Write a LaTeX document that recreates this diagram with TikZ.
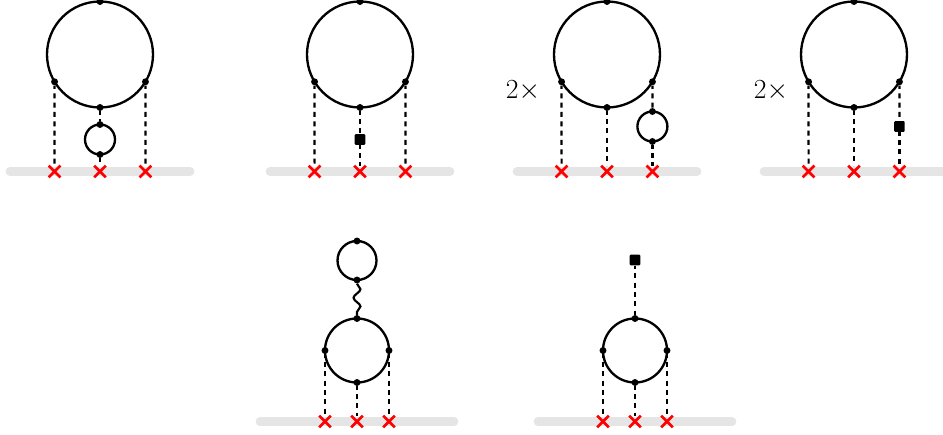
\documentclass[tikz,border=0pt]{standalone}
\usepackage{amsmath}
\usetikzlibrary{shapes.misc,decorations.pathmorphing}
\tikzset{
  pxl/.style={x=0.75pt,y=-0.75pt},
  looprim/.style={circle,draw=black,line width=1.75pt,inner sep=0pt,outer sep=0pt,fill=none,minimum size=#1*1.5pt},
  vertexdot/.style={circle,fill=black,inner sep=0pt,minimum size=5.2pt},
  insertion/.style={rectangle,fill=black,rounded corners=0.8pt,inner sep=0pt,minimum size=8pt},
  source/.style={cross out,draw=red,line width=2pt,inner sep=0pt,outer sep=0pt,minimum size=8.8pt},
  band/.style={line width=6.6pt,line cap=round,draw=black!10},
  prop/.style={line width=1.65pt,dash pattern=on 3.8pt off 3.2pt,dash phase=1.2pt},
  photon/.style={line width=1.6pt,decorate,decoration={snake,segment length=13pt,amplitude=2.6pt}}
}
% prefix, centre x, centre y, radius in px
\newcommand{\mkloop}[4]{%
  \node[looprim=#4] (#1) at (#2,#3) {};%
  \node[vertexdot] (#1-top) at (#1.north) {};%
  \node[vertexdot] (#1-bot) at (#1.south) {};%
}
\newcommand{\mkbig}[2]{%
  \mkloop{#1}{#2}{54.5}{53}%
  \node[vertexdot] (#1-lft) at (#1.211) {};%
  \node[vertexdot] (#1-rgt) at (#1.329) {};%
}
\newcommand{\mkmid}[2]{%
  \mkloop{#1}{#2}{350.5}{32}%
  \node[vertexdot] (#1-lft) at (#1.west) {};%
  \node[vertexdot] (#1-rgt) at (#1.east) {};%
}
% prefix, band left, band right, y, x1 x2 x3
\newcommand{\mkband}[7]{%
  \coordinate (#1-L) at (#2,#4);%
  \coordinate (#1-R) at (#3,#4);%
  \draw[band] (#1-L) -- (#1-R);%
  \node[source] (#1-x1) at (#5,#4) {};%
  \node[source] (#1-x2) at (#6,#4) {};%
  \node[source] (#1-x3) at (#7,#4) {};%
}
\begin{document}
\begin{tikzpicture}[pxl]
\useasboundingbox (0,0) rectangle (943,435);

% diagram 1
\mkband{bandA}{10}{190}{171.5}{54.6}{100}{145.4}
\mkbig{loopA}{100}
\mkloop{subA}{100}{139.5}{15}
\draw[prop] (loopA-lft) -- (bandA-x1);
\draw[prop] (loopA-rgt) -- (bandA-x3);
\draw[prop] (loopA-bot) -- (subA-top);
\draw[prop] (subA-bot) -- (bandA-x2);

% diagram 2
\mkband{bandB}{270}{450}{171.5}{314.6}{360}{405.4}
\mkbig{loopB}{360}
\node[insertion] (subB) at (360,139.5) {};
\draw[prop] (loopB-lft) -- (bandB-x1);
\draw[prop] (loopB-rgt) -- (bandB-x3);
\draw[prop] (loopB-bot) -- (subB);
\draw[prop] (subB) -- (bandB-x2);

% diagram 3
\mkband{bandC}{517}{697}{171.5}{561.6}{607}{652.4}
\mkbig{loopC}{607}
\mkloop{subC}{652.4}{126.5}{15}
\draw[prop] (loopC-lft) -- (bandC-x1);
\draw[prop] (loopC-bot) -- (bandC-x2);
\draw[prop] (loopC-rgt) -- (subC-top);
\draw[prop] (subC-bot) -- (bandC-x3);
\node (factorC) at (523,91) {\fontsize{21}{24}\selectfont $2\times$};

% diagram 4
\mkband{bandD}{764}{946}{171.5}{808.6}{854}{899.4}
\mkbig{loopD}{854}
\node[insertion] (subD) at (899.4,126.5) {};
\draw[prop] (loopD-lft) -- (bandD-x1);
\draw[prop] (loopD-bot) -- (bandD-x2);
\draw[prop] (loopD-rgt) -- (subD);
\draw[prop] (subD) -- (bandD-x3);
\node (factorD) at (771,91) {\fontsize{21}{24}\selectfont $2\times$};

% diagram 5
\mkband{bandE}{260}{454}{421.5}{325}{357}{389}
\mkmid{loopE}{357}
\mkloop{subE}{357}{260.5}{19.5}
\draw[photon] (subE-bot) -- (loopE-top);
\draw[prop] (loopE-lft) -- (bandE-x1);
\draw[prop] (loopE-bot) -- (bandE-x2);
\draw[prop] (loopE-rgt) -- (bandE-x3);

% diagram 6
\mkband{bandF}{538}{732}{421.5}{603}{635}{667}
\mkmid{loopF}{635}
\node[insertion] (subF) at (635,260) {};
\draw[prop] (subF) -- (loopF-top);
\draw[prop] (loopF-lft) -- (bandF-x1);
\draw[prop] (loopF-bot) -- (bandF-x2);
\draw[prop] (loopF-rgt) -- (bandF-x3);
\end{tikzpicture}
\end{document}
